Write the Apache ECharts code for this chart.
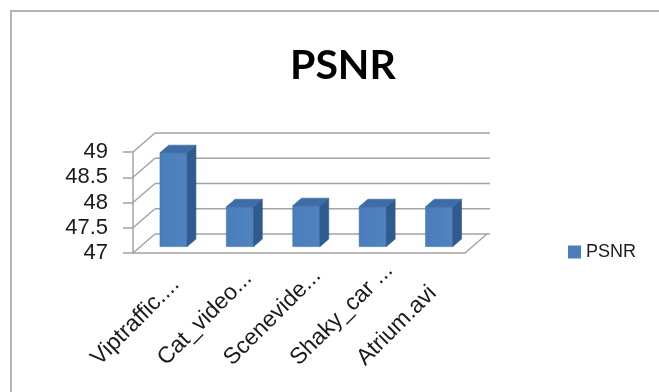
<!DOCTYPE html>
<html>
<head>
<meta charset="utf-8">
<script src="https://cdn.jsdelivr.net/npm/echarts@6/dist/echarts.min.js"></script>
<style>
  html, body { margin: 0; padding: 0; background: #fff; }
  #chart { width: 659px; height: 392px; }
</style>
</head>
<body>
<div id="chart"></div>
<script>
// data
var categories = ['Viptraffic....', 'Cat_video...', 'Scenevide...', 'Shaky_car ...', 'Atrium.avi'];
var psnr = [48.86, 47.79, 47.81, 47.79, 47.79];
var yTicks = [47, 47.5, 48, 48.5, 49];

// fake 3d: offset of the back wall and of the bars from the front plane
var DX = 22, DY = -19;
var BAR_DX = 7.4, BAR_DY = -6.4, BAR_DEPTH_X = 8.7, BAR_DEPTH_Y = -7.5;
var gridColor = '#a3a3a3';
var textColor = '#1a1a1a';

var chart = echarts.init(document.getElementById('chart'));

function renderWall(params, api) {
  var cs = params.coordSys;
  var v = api.value(1);
  var y = api.coord([0, v])[1];
  var L = cs.x, R = cs.x + cs.width;
  var st = {stroke: gridColor, lineWidth: 1.5};
  var kids = [
    {type: 'line', shape: {x1: L, y1: y, x2: L + DX, y2: y + DY}, style: st},
    {type: 'line', shape: {x1: L + DX, y1: y + DY, x2: R + DX + 3, y2: y + DY}, style: st}
  ];
  if (v === yTicks[0]) {
    kids.push({type: 'line', shape: {x1: R, y1: y, x2: R + DX, y2: y + DY}, style: st});
  }
  return {type: 'group', children: kids};
}

function renderBar(params, api) {
  var idx = api.value(0);
  var top = api.coord([idx, api.value(1)]);
  var base = api.coord([idx, yTicks[0]]);
  var band = api.size([1, 0])[0];
  var w = band * 0.41;
  var x0 = top[0] - w / 2 + BAR_DX, x1 = x0 + w;
  var yt = top[1] + BAR_DY, yb = base[1] + BAR_DY;
  var ex = BAR_DEPTH_X, ey = BAR_DEPTH_Y;
  return {
    type: 'group',
    children: [
      {type: 'polygon', shape: {points: [[x0, yb], [x1, yb], [x1, yt], [x0, yt]]},
        style: {fill: new echarts.graphic.LinearGradient(0, 0, 1, 0, [
          {offset: 0, color: '#4a7dbb'}, {offset: 1, color: '#5183c1'}]), stroke: '#3f6ea6', lineWidth: 0.6}},
      {type: 'polygon', shape: {points: [[x1, yb], [x1 + ex, yb + ey], [x1 + ex, yt + ey], [x1, yt]]},
        style: {fill: '#2f5b8e', stroke: '#2c5585', lineWidth: 0.6}},
      {type: 'polygon', shape: {points: [[x0, yt], [x1, yt], [x1 + ex, yt + ey], [x0 + ex, yt + ey]]},
        style: {fill: '#3d6ca6', stroke: '#3a67a0', lineWidth: 0.6}}
    ]
  };
}

chart.setOption({
  animation: false,
  backgroundColor: '#fff',
  graphic: [{
    type: 'rect',
    shape: {x: 11, y: 11, width: 680, height: 420},
    style: {fill: 'none', stroke: '#b4b4b4', lineWidth: 2},
    silent: true
  }],
  title: {
    text: 'PSNR',
    left: 285,
    top: 40,
    textStyle: {fontFamily: 'Lato', fontWeight: 'bold', fontSize: 41, color: '#000'}
  },
  legend: {
    data: ['PSNR'],
    left: 563,
    top: 238,
    icon: 'rect',
    itemWidth: 13,
    itemHeight: 13,
    itemGap: 6,
    textStyle: {fontFamily: 'Liberation Sans', fontSize: 18, color: textColor}
  },
  grid: [
    {left: 133, right: 194, top: 152, bottom: 139},
    {left: 70, right: 257, top: 300, bottom: 22}
  ],
  xAxis: [{
    type: 'category',
    gridIndex: 0,
    data: categories,
    axisLine: {lineStyle: {color: gridColor, width: 1.5}},
    axisTick: {length: 9, lineStyle: {color: gridColor, width: 1.5}},
    axisLabel: {show: false}
  }, {
    type: 'category',
    gridIndex: 1,
    data: categories,
    axisLine: {show: false},
    axisTick: {show: false},
    axisLabel: {
      interval: 0,
      rotate: 45,
      align: 'left',
      verticalAlign: 'bottom',
      margin: 0,
      fontFamily: 'Liberation Sans',
      fontSize: 23,
      color: textColor
    }
  }],
  yAxis: [{
    type: 'value',
    gridIndex: 0,
    min: 47,
    max: 49,
    interval: 0.5,
    axisLine: {show: true, lineStyle: {color: gridColor, width: 1.5}},
    axisTick: {show: true, length: 10, lineStyle: {color: gridColor, width: 1.5}},
    splitLine: {show: false},
    axisLabel: {margin: 25, fontFamily: 'Liberation Sans', fontSize: 22, color: textColor}
  }, {
    type: 'value',
    gridIndex: 1,
    min: 0,
    max: 1,
    show: false
  }],
  series: [{
    type: 'custom',
    name: 'walls',
    xAxisIndex: 0,
    yAxisIndex: 0,
    renderItem: renderWall,
    data: yTicks.map(function (v) { return [0, v]; }),
    z: 1,
    silent: true
  }, {
    type: 'custom',
    name: 'PSNR',
    xAxisIndex: 0,
    yAxisIndex: 0,
    itemStyle: {color: '#4a7ebb'},
    renderItem: renderBar,
    data: psnr.map(function (v, i) { return [i, v]; }),
    z: 3
  }]
});
</script>
</body>
</html>
